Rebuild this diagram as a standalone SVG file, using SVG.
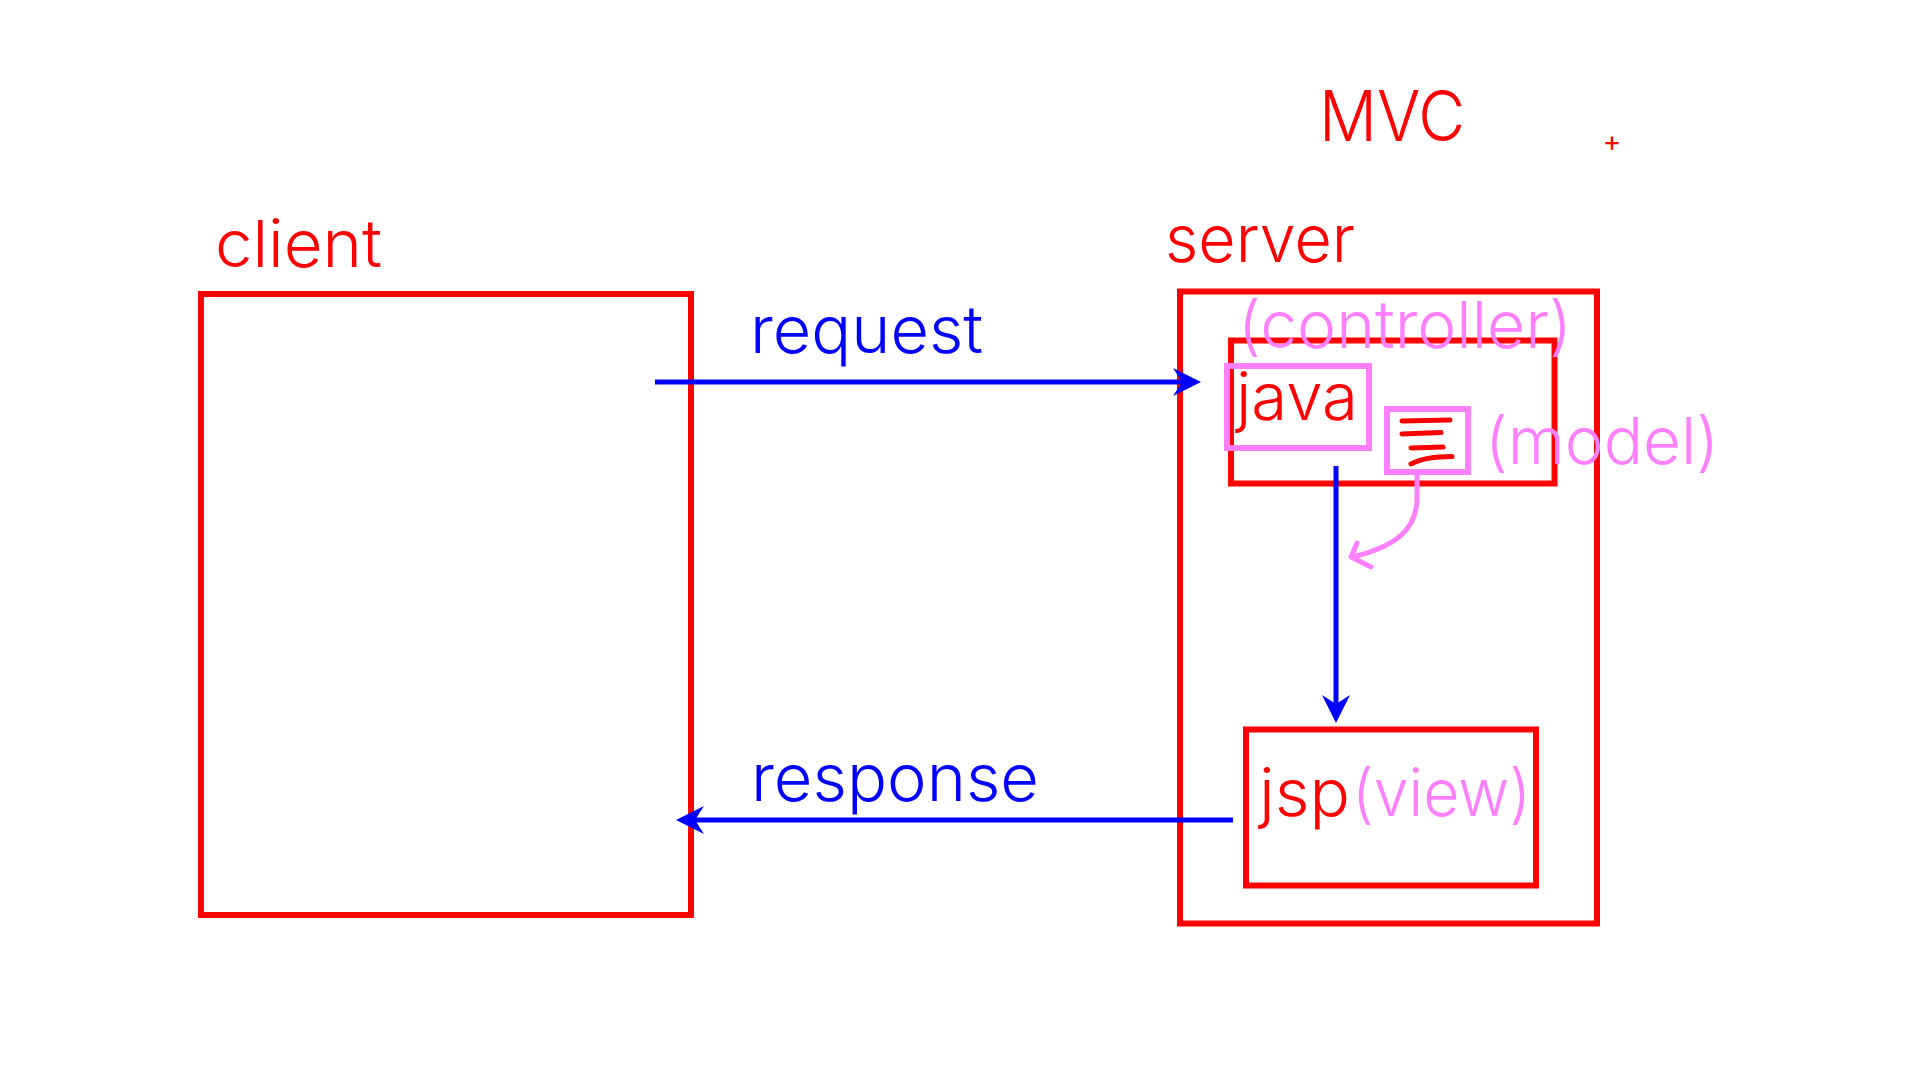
<svg xmlns="http://www.w3.org/2000/svg" width="1920" height="1080" viewBox="0 0 1920 1080">
  <style>
    text { font-family: Inter, "Liberation Sans", Arial, sans-serif; font-weight: 300; }
    .lbl { font-size: 65px; }
    .title { font-size: 70px; }
    .mark { font-size: 28px; font-weight: 400; }
    .red { fill: #FF0000; }
    .blue { fill: #0000FF; }
    .pink { fill: #FF80FF; }
    .box-red { fill: none; stroke: #FF0000; stroke-width: 6; }
    .box-pink { fill: none; stroke: #FF80FF; stroke-width: 6; }
    .conn { fill: none; stroke: #0000FF; stroke-width: 5; }
    .conn-pink { fill: none; stroke: #FF80FF; stroke-width: 5; stroke-linecap: round; stroke-linejoin: round; }
    .scribble { fill: none; stroke: #FF0000; stroke-width: 5; stroke-linecap: round; }
  </style>
  <defs>
    <marker id="chev" viewBox="0 0 28 28" refX="20" refY="14" markerWidth="28" markerHeight="28" markerUnits="userSpaceOnUse" orient="auto">
      <path d="M0,0 L28,14 L0,28 L9,14 Z" fill="#0000FF"/>
    </marker>
  </defs>
  <rect width="1920" height="1080" fill="#FFFFFF"/>

  <g id="title">
    <text class="red title" x="1319" y="141" textLength="146" lengthAdjust="spacingAndGlyphs">MVC</text>
    <text class="red mark" x="1612" y="151" text-anchor="middle">+</text>
  </g>

  <g id="node-client">
    <rect class="box-red" x="201" y="294" width="490" height="621"/>
    <text class="red lbl" x="215" y="267" textLength="167" lengthAdjust="spacingAndGlyphs">client</text>
  </g>

  <g id="node-server">
    <rect class="box-red" x="1180" y="291.5" width="417" height="632"/>
    <text class="red lbl" x="1165" y="262" textLength="190" lengthAdjust="spacingAndGlyphs">server</text>
  </g>

  <g id="node-controller">
    <rect class="box-red" x="1231" y="340.5" width="323.5" height="143"/>
    <text class="pink lbl" x="1238" y="348" textLength="334" lengthAdjust="spacingAndGlyphs">(controller)</text>
  </g>

  <g id="node-java">
    <rect class="box-pink" x="1227" y="366" width="142" height="82"/>
    <text class="red lbl" x="1236" y="420" textLength="122" lengthAdjust="spacingAndGlyphs">java</text>
  </g>

  <g id="node-model">
    <rect class="box-pink" x="1387" y="409" width="81" height="63"/>
    <path class="scribble" d="M1402,421 L1450,420"/>
    <path class="scribble" d="M1402,434 L1441,432.5"/>
    <path class="scribble" d="M1411,448 L1443,447"/>
    <path class="scribble" d="M1411,464 Q1425,456.5 1452,456.5"/>
    <text class="pink lbl" x="1485" y="464" textLength="234" lengthAdjust="spacingAndGlyphs">(model)</text>
  </g>

  <g id="node-jsp">
    <rect class="box-red" x="1246" y="729.5" width="290" height="156"/>
    <text class="red lbl" x="1259" y="816" textLength="91" lengthAdjust="spacingAndGlyphs">jsp</text>
    <text class="pink lbl" x="1352" y="816" textLength="179" lengthAdjust="spacingAndGlyphs">(view)</text>
  </g>

  <g id="connectors">
    <path class="conn" d="M655,382 L1193,382" marker-end="url(#chev)"/>
    <text class="blue lbl" x="750" y="353" textLength="233" lengthAdjust="spacingAndGlyphs">request</text>
    <path class="conn" d="M1336,466 L1336,715" marker-end="url(#chev)"/>
    <path class="conn" d="M1233,820 L684,820" marker-end="url(#chev)"/>
    <text class="blue lbl" x="751" y="801" textLength="288" lengthAdjust="spacingAndGlyphs">response</text>
    <path class="conn-pink" d="M1417,474 L1417,500 C1416,530 1396,546 1353,557"/>
    <path class="conn-pink" d="M1357,543 L1351,557 L1371,567"/>
  </g>
</svg>
